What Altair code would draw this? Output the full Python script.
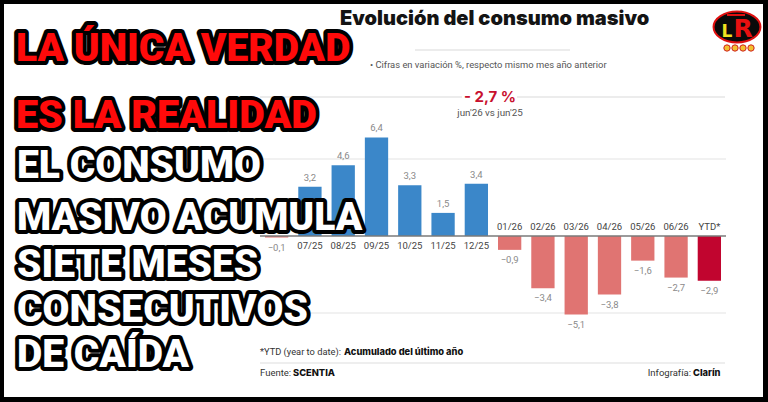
import altair as alt
import pandas as pd

# ---------------- data ----------------
categories = ["06/25", "07/25", "08/25", "09/25", "10/25", "11/25", "12/25",
              "01/26", "02/26", "03/26", "04/26", "05/26", "06/26", "YTD*"]
values = [-0.1, 3.2, 4.6, 6.4, 3.3, 1.5, 3.4, -0.9, -3.4, -5.1, -3.8, -1.6, -2.7, -2.9]
grid_values = [-5, 5]

title_text = "Evolución del consumo masivo"
subtitle_text = "• Cifras en variación %, respecto mismo mes año anterior"
headline_value = "- 2,7 %"
headline_note = "jun'26 vs jun'25"
footnote_plain = "*YTD (year to date):"
footnote_bold = "Acumulado del último año"
source_plain = "Fuente:"
source_bold = "SCENTIA"
credit_plain = "Infografía:"
credit_bold = "Clarín"
red_lines = ["LA ÚNICA VERDAD", "ES LA REALIDAD"]
white_lines = ["EL CONSUMO", "MASIVO ACUMULA", "SIETE MESES", "CONSECUTIVOS", "DE CAÍDA"]

# ---------------- helpers ----------------
one = pd.DataFrame({"k": [0]})
LABEL_FONT = "Roboto"
BIG_FONT = "Roboto"


def txt(text, x, y, **kw):
    return alt.Chart(one).mark_text(text=text, **kw).encode(x=alt.value(x), y=alt.value(y))


def hrule(x1, x2, y, color="#d9d9d9", width=1):
    return alt.Chart(one).mark_rule(color=color, strokeWidth=width).encode(
        x=alt.value(x1), x2=alt.value(x2), y=alt.value(y))


df = pd.DataFrame({"cat": categories, "v": values})

xenc = alt.X("cat:N", sort=categories, axis=None,
             scale=alt.Scale(range=[260, 726], paddingInner=0.3, paddingOuter=0.15))
yscale = alt.Scale(domain=[-5, 5], range=[313, 159], nice=False, zero=False)

base = alt.Chart(df).transform_calculate(
    kind="datum.cat == 'YTD*' ? 'ytd' : (datum.v < 0 ? 'neg' : 'pos')",
    lab="replace(format(datum.v, '.1f'), '.', ',')",
)

# background: black frame, white page
frame = alt.Chart(one).mark_rect(color="white").encode(
    x=alt.value(4), x2=alt.value(763), y=alt.value(4), y2=alt.value(397))

grid = alt.Chart(pd.DataFrame({"g": grid_values})).mark_rule(
    color="#e3e3e3", strokeWidth=1).encode(
    y=alt.Y("g:Q", scale=yscale, axis=None), x=alt.value(260), x2=alt.value(726))

bars = base.mark_bar().encode(
    x=xenc,
    y=alt.Y("v:Q", scale=yscale, axis=None),
    y2=alt.datum(0),
    color=alt.Color("kind:N", legend=None,
                    scale=alt.Scale(domain=["pos", "neg", "ytd"],
                                    range=["#3b87c9", "#e07472", "#c1052f"])),
)

zero = alt.Chart(pd.DataFrame({"z": [0]})).mark_rule(color="#7a7a7a", strokeWidth=1.3).encode(
    y=alt.Y("z:Q", scale=yscale, axis=None), x=alt.value(260), x2=alt.value(726))

val_pos = base.transform_filter("datum.v >= 0").mark_text(
    font=LABEL_FONT, fontSize=9.5, color="#8a8a8a", baseline="alphabetic", dy=-6).encode(
    x=xenc, y=alt.Y("v:Q", scale=yscale, axis=None), text="lab:N")
val_neg = base.transform_filter("datum.v < 0").mark_text(
    font=LABEL_FONT, fontSize=9.5, color="#8a8a8a", baseline="top", dy=5).encode(
    x=xenc, y=alt.Y("v:Q", scale=yscale, axis=None), text="lab:N")

cat_pos = base.transform_filter("datum.v >= 0").mark_text(
    font=LABEL_FONT, fontSize=9.5, color="#444444", baseline="middle", dy=10).encode(
    x=xenc, y=alt.datum(0), text="cat:N")
cat_neg = base.transform_filter("datum.v < 0").mark_text(
    font=LABEL_FONT, fontSize=9.5, color="#444444", baseline="middle", dy=-9).encode(
    x=xenc, y=alt.datum(0), text="cat:N")

layers = [frame, grid, bars, zero, val_pos, val_neg, cat_pos, cat_neg]

# header
layers += [
    txt(title_text, 340, 19, font="Inter", fontSize=20, fontWeight=900, color="#141414",
        align="left", baseline="middle"),
    hrule(415, 570, 50),
    txt(subtitle_text, 370, 65, font=LABEL_FONT, fontSize=9.4, color="#555555",
        align="left", baseline="middle"),
    hrule(260, 462, 97),
    hrule(517, 725, 97),
    txt(headline_value, 490, 97, font="Inter", fontSize=15, fontWeight=700, color="#c8102e",
        align="center", baseline="middle"),
    txt(headline_note, 490, 113, font=LABEL_FONT, fontSize=9.8, color="#555555",
        align="center", baseline="middle"),
]

# footer
layers += [
    txt(footnote_plain, 260, 352, font=LABEL_FONT, fontSize=9.3, color="#333333",
        align="left", baseline="middle"),
    txt(footnote_bold, 344, 352, font="Inter", fontSize=9.3, fontWeight=800, color="#111111",
        align="left", baseline="middle"),
    hrule(260, 725, 363, color="#dddddd"),
    txt(source_plain, 260, 373, font=LABEL_FONT, fontSize=9.5, color="#333333",
        align="left", baseline="middle"),
    txt(source_bold, 293, 373, font="Inter", fontSize=9.3, fontWeight=800, color="#111111",
        align="left", baseline="middle"),
    txt(credit_plain, 691, 373, font=LABEL_FONT, fontSize=9.5, color="#333333",
        align="right", baseline="middle"),
    txt(credit_bold, 693, 373, font="Inter", fontSize=9.3, fontWeight=800, color="#111111",
        align="left", baseline="middle"),
]

# logo
ellipse = "M-1,0 A1,0.66 0 1,0 1,0 A1,0.66 0 1,0 -1,0 Z"
layers += [
    alt.Chart(one).mark_point(shape=ellipse, size=2200, filled=True, fill="#0a0a0a",
                              stroke="#e01010", strokeWidth=2, opacity=1).encode(
        x=alt.value(737), y=alt.value(27)),
    hrule(727, 745, 15, color="#e01010", width=2),
    txt("R", 743, 29, font="DejaVu Sans", fontSize=25, fontWeight="bold", color="#e81010",
        align="center", baseline="middle"),
    txt("L", 727, 32, font="DejaVu Sans", fontSize=17, fontWeight="bold", color="#f0e020",
        align="center", baseline="middle"),
]
for dx in [727, 735, 743, 751]:
    layers.append(alt.Chart(one).mark_point(shape="circle", size=40, filled=True,
                                            fill="#f2c12e", stroke="#d02020", strokeWidth=1,
                                            opacity=1).encode(x=alt.value(dx), y=alt.value(48)))

# overlay slogan
red_pos = [(16, 61, 39), (16, 128, 39.5)]
white_pos = [(17, 178, 39), (17, 230, 39), (17, 277, 39), (17, 322, 39), (17, 367, 39)]
for line, (x, y, fs) in zip(red_lines, red_pos):
    layers.append(txt(line, x, y, font=BIG_FONT, fontSize=fs, fontWeight=900,
                      fill="black", stroke="black", strokeWidth=8, strokeJoin="round",
                      align="left", baseline="alphabetic"))
    layers.append(txt(line, x, y, font=BIG_FONT, fontSize=fs, fontWeight=900,
                      fill="#ff0a0a", align="left", baseline="alphabetic"))
for line, (x, y, fs) in zip(white_lines, white_pos):
    layers.append(txt(line, x, y, font=BIG_FONT, fontSize=fs, fontWeight=900,
                      fill="black", stroke="black", strokeWidth=8, strokeJoin="round",
                      align="left", baseline="alphabetic"))
    layers.append(txt(line, x, y, font=BIG_FONT, fontSize=fs, fontWeight=900,
                      fill="white", align="left", baseline="alphabetic"))

chart = alt.layer(*layers).properties(
    width=768, height=402, padding=0, background="black",
    autosize=alt.AutoSizeParams(type="none"),
).configure_view(strokeWidth=0)

chart.save("out.html", embed_options={"renderer": "svg", "actions": False})
